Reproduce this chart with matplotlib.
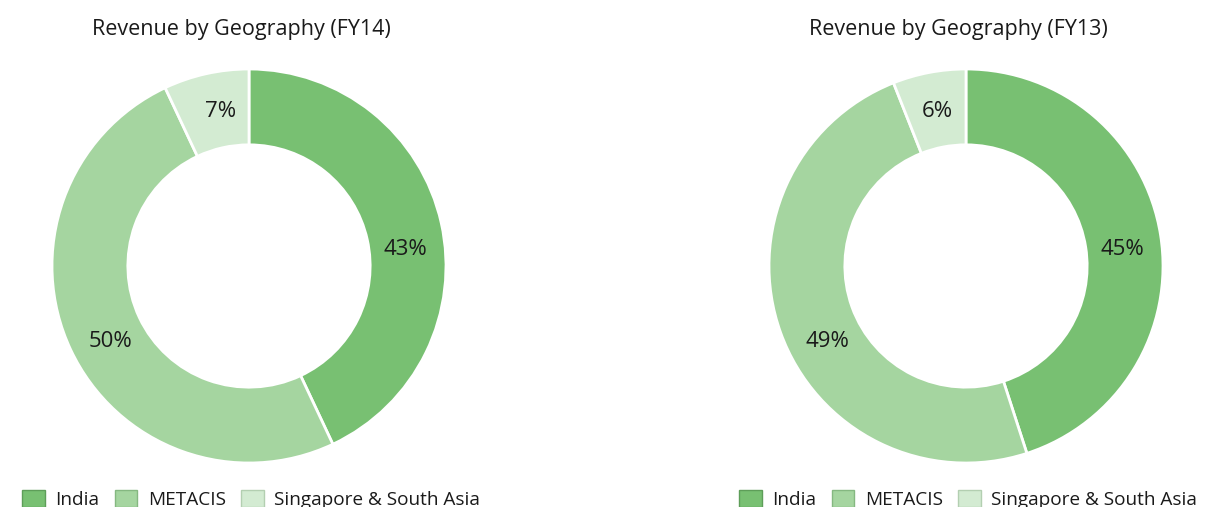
import matplotlib.pyplot as plt
from matplotlib.patches import Patch
import numpy as np

plt.rcParams['font.family'] = ['Open Sans', 'DejaVu Sans']

regions = ["India", "METACIS", "Singapore & South Asia"]
fy14 = [43, 50, 7]
fy13 = [45, 49, 6]
titles = ["Revenue by Geography (FY14)", "Revenue by Geography (FY13)"]

colors = ["#78c072", "#a5d5a0", "#d3ebd2"]
edges = ["#5e9e59", "#85b881", "#b3cfb1"]
# where the source puts its percentage labels (degrees, counter-clockwise from 3 o'clock)
label_angles = [6, 208.5, 100.5]

W, H = 1207, 507
fig = plt.figure(figsize=(W / 100, H / 100), dpi=100)

centers = [249, 966]
radius = 197
cy = 266

for cx, vals, title in zip(centers, [fy14, fy13], titles):
    ax = fig.add_axes([(cx - radius) / W, (H - cy - radius) / H, 2 * radius / W, 2 * radius / H])
    wedges, _ = ax.pie(vals, colors=colors, startangle=90, counterclock=False,
                       radius=1, wedgeprops=dict(width=0.385, edgecolor="white", linewidth=2))
    for v, ang in zip(vals, label_angles):
        a = np.deg2rad(ang)
        ax.text(0.80 * np.cos(a), 0.80 * np.sin(a), f"{v}%", ha="center", va="center",
                fontsize=16, color="#1a1a1a")
    ax.set_xlim(-1, 1)
    ax.set_ylim(-1, 1)
    ax.set_aspect("equal")
    ax.axis("off")
    fig.text((cx - 8) / W, 1 - 29 / H, title, ha="center", va="center", fontsize=15.5, color="#1a1a1a")

    handles = [Patch(facecolor=c, edgecolor=e, linewidth=1) for c, e in zip(colors, edges)]
    fig.legend(handles, regions, loc="center left", ncol=3, frameon=False,
               bbox_to_anchor=((cx - 249 + 22) / W, 1 - 499.5 / H), fontsize=13.7,
               handlelength=1.2, handleheight=0.95, handletextpad=0.55, columnspacing=0.8,
               borderaxespad=0, borderpad=0, labelcolor="#1a1a1a")

fig.savefig("out.png", dpi=100)
